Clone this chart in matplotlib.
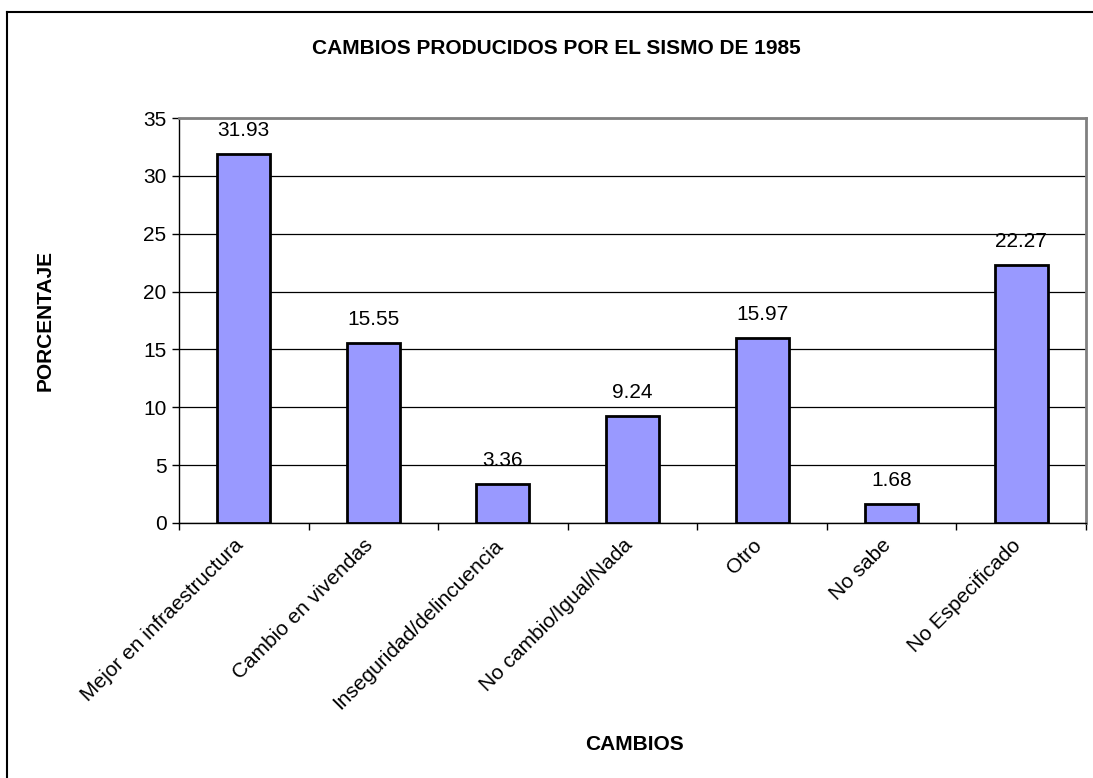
import matplotlib
matplotlib.use("Agg")
from matplotlib import pyplot as plt
from matplotlib.lines import Line2D
from matplotlib.transforms import ScaledTranslation

plt.rcParams['font.family'] = ['Liberation Sans', 'DejaVu Sans']

categorias = ["Mejor en infraestructura", "Cambio en vivendas", "Inseguridad/delincuencia",
              "No cambio/Igual/Nada", "Otro", "No sabe", "No Especificado"]
porcentajes = [31.93, 15.55, 3.36, 9.24, 15.97, 1.68, 22.27]
yticks = [0, 5, 10, 15, 20, 25, 30, 35]

W, H = 1093, 778
fig = plt.figure(figsize=(W / 100, H / 100), dpi=100)
ax = fig.add_axes([179 / W, 1 - 523 / H, (1086 - 179) / W, (523 - 118) / H])

x = list(range(len(categorias)))
bars = ax.bar(x, porcentajes, width=0.41, color="#9999FF", edgecolor="black", linewidth=2, zorder=3)
for xi, v in zip(x, porcentajes):
    ax.annotate(f"{v:.2f}", (xi, v), xytext=(0, 10), textcoords="offset points",
                ha="center", va="bottom", fontsize=15)

ax.set_xlim(-0.5, len(categorias) - 0.5)
ax.set_ylim(0, 35)
ax.set_yticks(yticks)
ax.set_yticklabels([str(t) for t in yticks], fontsize=15)
ax.yaxis.grid(True, color="black", linewidth=0.9, zorder=0)
ax.set_axisbelow(True)

# category ticks at the boundaries, labels at the centres
ax.set_xticks([i - 0.5 for i in range(len(categorias) + 1)])
ax.set_xticklabels([])
ax.set_xticks(x, minor=True)
ax.set_xticklabels(categorias, minor=True, rotation=45, ha="right", va="top",
                   rotation_mode="anchor", fontsize=15)
ax.tick_params(axis="x", which="minor", length=0, pad=9)
ax.tick_params(axis="x", which="major", length=5, width=1, direction="out")
ax.tick_params(axis="y", length=5, width=1, direction="out", pad=4)
shift = ScaledTranslation(-10 / 100, 0, fig.dpi_scale_trans)
for lbl in ax.get_xticklabels(minor=True):
    lbl.set_transform(lbl.get_transform() + shift)

for side in ["top", "right"]:
    ax.spines[side].set_color("#808080")
    ax.spines[side].set_linewidth(2)
ax.spines["left"].set_color("black")
ax.spines["bottom"].set_color("black")
ax.spines["left"].set_linewidth(1)
ax.spines["bottom"].set_linewidth(1)

fig.text(556 / W, 1 - 48 / H, "CAMBIOS PRODUCIDOS POR EL SISMO DE 1985",
         ha="center", va="center", fontsize=15, fontweight="bold")
fig.text(45 / W, 1 - 320 / H, "PORCENTAJE", rotation=90, ha="center", va="center",
         fontsize=15, fontweight="bold")
fig.text(634 / W, 1 - 744 / H, "CAMBIOS", ha="center", va="center",
         fontsize=15, fontweight="bold")

# outer chart border (only left and top visible in the crop)
fig.add_artist(Line2D([6.5 / W, 6.5 / W], [0, 1 - 12 / H], color="black", linewidth=1.5))
fig.add_artist(Line2D([6.5 / W, 1], [1 - 12 / H, 1 - 12 / H], color="black", linewidth=1.5))

fig.savefig("out.png", dpi=100)
